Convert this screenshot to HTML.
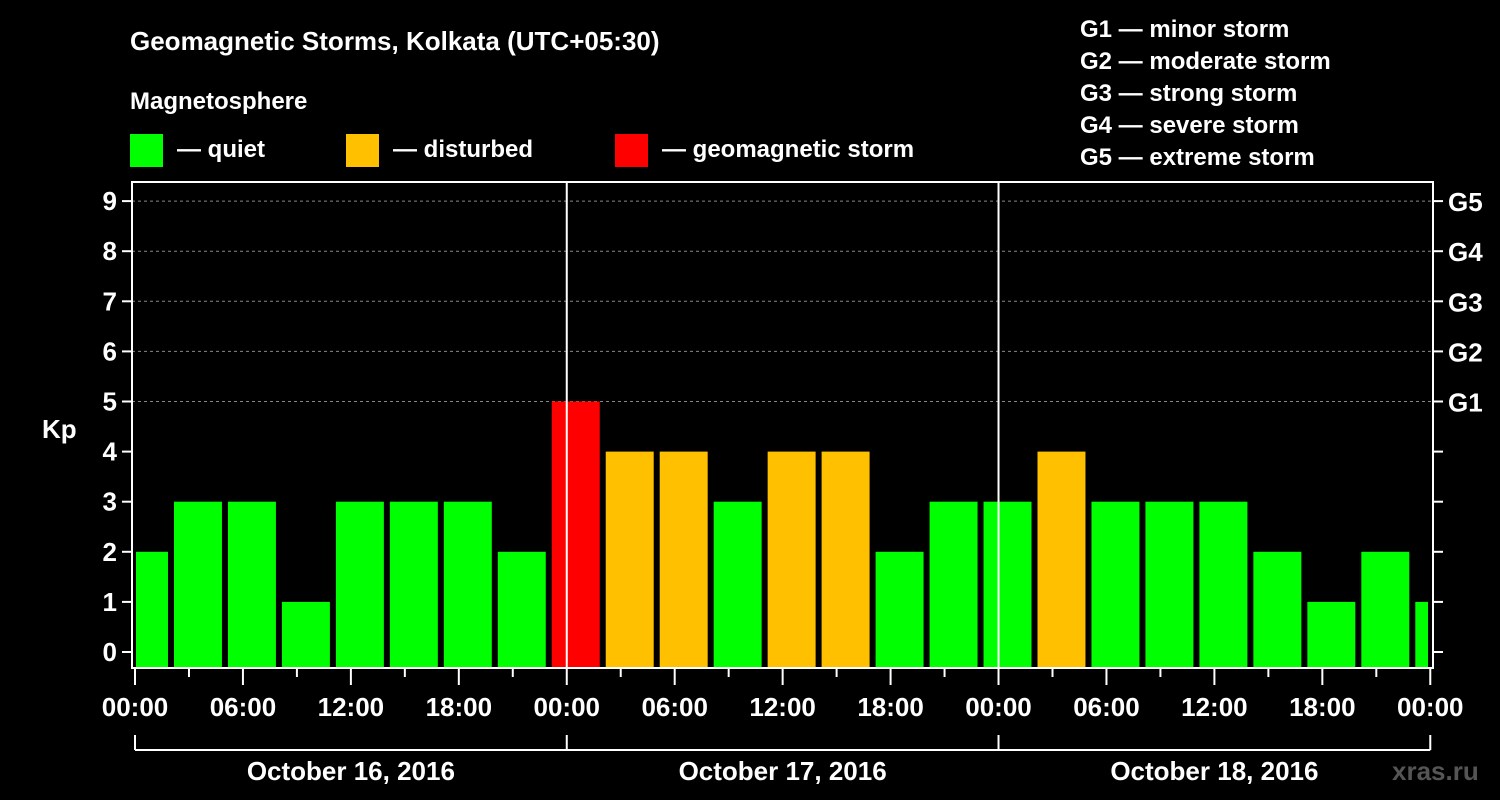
<!DOCTYPE html>
<html><head><meta charset="utf-8"><style>
html,body{margin:0;padding:0;background:#000;}
svg{display:block;font-family:"Liberation Sans",Arial,sans-serif;font-weight:bold;}
</style></head><body>
<svg id="chart" width="1500" height="800" viewBox="0 0 1500 800">
<text x="130" y="50" fill="#fff" font-size="26">Geomagnetic Storms, Kolkata (UTC+05:30)</text>
<text x="130" y="109" fill="#fff" font-size="24">Magnetosphere</text>
<g><rect x="130" y="134" width="33" height="33" fill="#00ff00"/><text x="177" y="157" fill="#fff" font-size="24">— quiet</text></g>
<g><rect x="346" y="134" width="33" height="33" fill="#ffc000"/><text x="393" y="157" fill="#fff" font-size="24">— disturbed</text></g>
<g><rect x="615" y="134" width="33" height="33" fill="#ff0000"/><text x="662" y="157" fill="#fff" font-size="24">— geomagnetic storm</text></g>
<g fill="#fff" font-size="24">
<text x="1080" y="37">G1 — minor storm</text>
<text x="1080" y="69">G2 — moderate storm</text>
<text x="1080" y="101">G3 — strong storm</text>
<text x="1080" y="133">G4 — severe storm</text>
<text x="1080" y="165">G5 — extreme storm</text>
</g>
<text x="42" y="438" fill="#fff" font-size="26">Kp</text>
<text x="1392" y="780" fill="#555" font-size="26">xras.ru</text>
<g id="plot"></g>
</svg>
<script>
const kpValues=[2,3,3,1,3,3,3,2,5,4,4,3,4,4,2,3,3,4,3,3,3,2,1,2,1];
const yTicks=[0,1,2,3,4,5,6,7,8,9];
const gLabels=["G1","G2","G3","G4","G5"];
const xTickLabels=["00:00","06:00","12:00","18:00","00:00","06:00","12:00","18:00","00:00","06:00","12:00","18:00","00:00"];
const dayLabels=["October 16, 2016","October 17, 2016","October 18, 2016"];
const NS="http://www.w3.org/2000/svg";
const g=document.getElementById("plot");
const L=132,R=1433,T=182,B=668,X0=135,HOUR=17.99;
const x=h=>X0+h*HOUR;
const y=v=>652-v*50.1;
function mk(t,a,txt){const e=document.createElementNS(NS,t);for(const k in a)e.setAttribute(k,a[k]);if(txt!==undefined)e.textContent=txt;g.appendChild(e);return e;}
// grid
for(let v=5;v<=9;v++){
 const e=mk("line",{x1:L,x2:R,y1:y(v),y2:y(v),stroke:"#888","stroke-dasharray":"3,3","stroke-width":1});
 
 
}
// bars
kpValues.forEach((v,i)=>{
 const start=-1+3*i;
 let x1=x(start)+3,x2=x(start+3)-3;
 x1=Math.max(x1,136);x2=Math.min(x2,1428);
 const col=v>=5?"#ff0000":(v>=4?"#ffc000":"#00ff00");
 const e=mk("rect",{x:x1,y:y(v),width:x2-x1,height:B-1-y(v),fill:col});
 
 
});
// day separators
[24,48].forEach(h=>{
 const e=mk("line",{x1:x(h),x2:x(h),y1:T,y2:B,stroke:"#fff","stroke-width":2});
 
 
});
// axes frame
const fr=mk("rect",{x:L,y:T,width:R-L,height:B-T,fill:"none",stroke:"#fff","stroke-width":2});


// y ticks
yTicks.forEach(v=>{
 mk("line",{x1:L-10,x2:L,y1:y(v),y2:y(v),stroke:"#fff","stroke-width":2});
 mk("line",{x1:R,x2:R+10,y1:y(v),y2:y(v),stroke:"#fff","stroke-width":2});
 const t=mk("text",{x:L-15,y:y(v)+9,fill:"#fff","font-size":26,"text-anchor":"end"},String(v));
 
 
});
gLabels.forEach((s,i)=>{
 const t=mk("text",{x:1448,y:y(5+i)+10,fill:"#fff","font-size":26},s);
 
 
});
// x ticks
for(let h=0;h<=72;h+=3){
 const major=h%6===0;
 mk("line",{x1:x(h),x2:x(h),y1:B,y2:B+(major?17:9),stroke:"#fff","stroke-width":2});
}
xTickLabels.forEach((s,i)=>{
 const t=mk("text",{x:x(i*6),y:716,fill:"#fff","font-size":26,"text-anchor":"middle"},s);
 
 
});
// day brackets
mk("line",{x1:x(0),x2:x(72),y1:750,y2:750,stroke:"#fff","stroke-width":2});
for(let d=0;d<=3;d++)mk("line",{x1:x(d*24),x2:x(d*24),y1:735,y2:750,stroke:"#fff","stroke-width":2});
dayLabels.forEach((s,i)=>{
 const t=mk("text",{x:x(i*24+12),y:780,fill:"#fff","font-size":26,"text-anchor":"middle"},s);
 
 
});
</script>
</body></html>
